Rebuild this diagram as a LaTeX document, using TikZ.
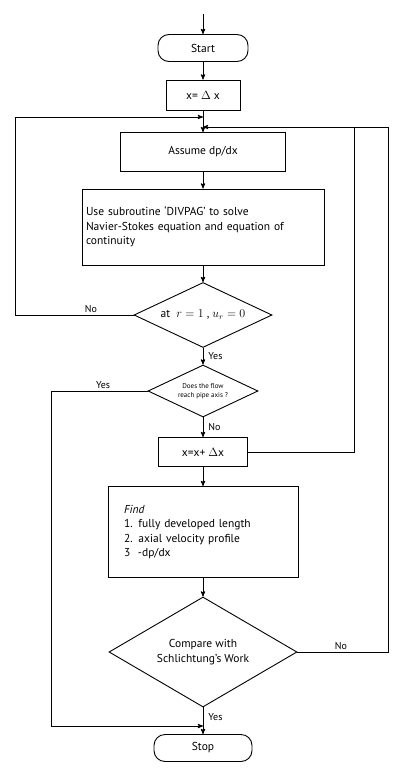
\documentclass[tikz,border=0pt]{standalone}
\usepackage{fontspec}
\setmainfont{PT Sans}
\usetikzlibrary{arrows,shapes.geometric,positioning}

\tikzset{
  box/.style={draw, rectangle, inner sep=4pt, font=\fontsize{11.5}{14.5}\selectfont},
  term/.style={draw, rectangle, rounded corners=11pt, minimum width=90pt, minimum height=27pt, font=\fontsize{11.5}{14.5}\selectfont},
  test/.style={draw, diamond, inner sep=0pt, align=center, font=\fontsize{11.5}{14.5}\selectfont},
  lab/.style={font=\fontsize{10}{11}\selectfont, inner sep=2pt},
}

\begin{document}
\begin{tikzpicture}[x=1pt, y=-1pt, >=stealth', line width=0.9pt]
    \useasboundingbox (0,0) rectangle (393,768);
    % steps down the middle
    \node[term] (start) at (203,48) {Start};
    \node[box, minimum width=74pt, minimum height=30pt] (init) at (203,95) {x= $\Delta$ x};
    \node[box, minimum width=165pt, minimum height=39pt] (assume) at (203,152) {Assume dp/dx};
    \node[box, text width=234pt, minimum height=76pt, align=left] (solve) at (203,227)
        {Use subroutine `DIVPAG' to solve\\Navier-Stokes equation and equation of\\continuity};
    \node[test, minimum width=138pt, minimum height=65pt, shape aspect=2.1] (wall) at (203,315)
        {at\ \ $r = 1$\ ,\ $u_r = 0$};
    \node[test, minimum width=110pt, minimum height=52pt, shape aspect=2.1, inner sep=-20pt, font=\fontsize{7}{8.5}\selectfont] (check) at (203,391)
        {Does the flow\\reach pipe axis ?};
    \node[box, minimum width=89pt, minimum height=29pt] (step) at (203,452) {x=x+ $\Delta$x};
    \node[box, text width=158pt, inner xsep=16pt, minimum height=91pt, align=left] (find) at (203,532)
        {\textit{Find}\\ 1. fully developed length\\2. axial velocity profile\\3 \ -dp/dx};
    \node[test, minimum width=188pt, minimum height=110pt, shape aspect=1.7] (cmp) at (203,652)
        {Compare with\\Schlichtung's Work};
    \node[term, minimum width=98pt] (stop) at (203,748) {Stop};

    % joins and loop columns
    \coordinate (entry) at (203,14);
    \coordinate (jl) at (203,117);
    \coordinate (jr) at (203,127);
    \coordinate (yj) at (203,726);
    \coordinate (lx) at (15,0);
    \coordinate (bx) at (51,0);
    \coordinate (rx) at (354,0);
    \coordinate (ox) at (388,0);

    % main flow
    \draw[->] (entry) -- (start);
    \draw[->] (start) -- (init);
    \draw[->] (init) -- (assume);
    \draw[->] (assume) -- (solve);
    \draw[->] (solve) -- (wall);
    \draw[->] (wall) -- node[lab, right=3pt] {Yes} (check);
    \draw[->] (check) -- node[lab, right=3pt] {No} (step);
    \draw[->] (step) -- (find);
    \draw[->] (find) -- (cmp);
    \draw[->] (cmp) -- node[lab, right=3pt, pos=0.35] {Yes} (stop);

    % loops back
    \draw[->] (wall.west) -| node[lab, above, pos=0.18] {No} (lx |- jl) -- (jl);
    \draw[->] (check.west) -| node[lab, above, pos=0.23] {Yes} (bx |- yj) -- (yj);
    \draw[->] (step.east) -| (rx |- jr) -- (jr);
    \draw (cmp.east) -| node[lab, above, pos=0.24] {No} (ox |- jr) -- (rx |- jr);
\end{tikzpicture}
\end{document}
